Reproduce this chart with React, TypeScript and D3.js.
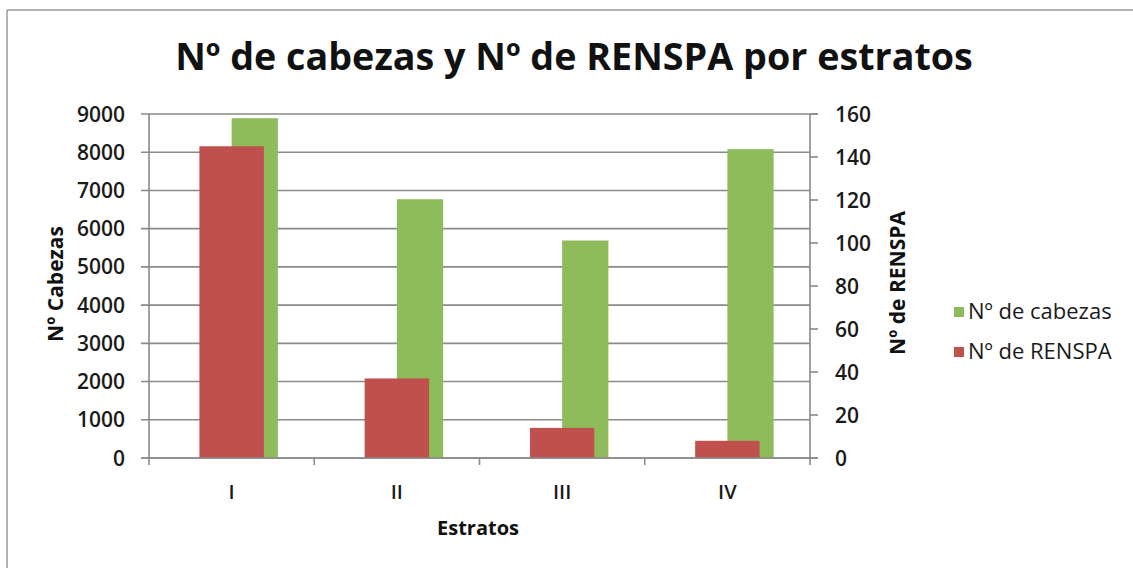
import React from "react";
import * as d3 from "d3";

const categories = ["I", "II", "III", "IV"];
const cabezas = [8890, 6770, 5690, 8080];
const renspa = [145, 37, 14, 8];
const leftTicks = [0, 1000, 2000, 3000, 4000, 5000, 6000, 7000, 8000, 9000];
const rightTicks = [0, 20, 40, 60, 80, 100, 120, 140, 160];

const title = "Nº de cabezas y Nº de RENSPA por estratos";
const seriesNames = ["Nº de cabezas", "Nº de RENSPA"];
const colors = ["#8fbc5a", "#c0504d"];

const W = 1133;
const H = 568;
const plot = { left: 149, right: 810, top: 114, bottom: 458 };
const font = "'Open Sans', sans-serif";
const gridColor = "#8a8a8a";

export default function App() {
  const x = d3.scaleBand<string>().domain(categories).range([plot.left, plot.right]).paddingInner(0).paddingOuter(0);
  const yL = d3.scaleLinear().domain([0, 9000]).range([plot.bottom, plot.top]);
  const yR = d3.scaleLinear().domain([0, 160]).range([plot.bottom, plot.top]);
  const bw = x.bandwidth();
  const greenW = bw * 0.28;
  const redW = bw * 0.39;
  const boundaries = categories.map((c) => x(c) as number).concat([plot.right]);

  return (
    <svg width={W} height={H} style={{ position: "absolute", left: 0, top: 0, display: "block", background: "#fff", overflow: "hidden" }}>
      <line x1={7} x2={W} y1={10} y2={10} stroke="#999" strokeWidth={1.5} />
      <line x1={7} x2={7} y1={10} y2={H} stroke="#999" strokeWidth={1.5} />
      <text x={574} y={70} textAnchor="middle" fontFamily={font} fontWeight={700} fontSize={37.7} fill="#111">
        {title}
      </text>

      {/* gridlines + left ticks */}
      {leftTicks.map((t) => (
        <line key={"g" + t} x1={plot.left - 8} x2={t === 9000 ? plot.right + 8 : plot.right} y1={yL(t)} y2={yL(t)} stroke={gridColor} strokeWidth={1.6} />
      ))}
      {leftTicks.map((t) => (
        <text key={"lt" + t} x={125} y={yL(t)} dy="0.36em" textAnchor="end" fontFamily={font} fontWeight={600} fontSize={21} fill="#1a1a1a">
          {t}
        </text>
      ))}
      {/* right ticks */}
      {rightTicks.map((t) => (
        <line key={"rt" + t} x1={plot.right} x2={plot.right + 8} y1={yR(t)} y2={yR(t)} stroke={gridColor} strokeWidth={1.6} />
      ))}
      {rightTicks.map((t) => (
        <text key={"rl" + t} x={835} y={yR(t)} dy="0.36em" textAnchor="start" fontFamily={font} fontWeight={600} fontSize={21} fill="#1a1a1a">
          {t}
        </text>
      ))}

      {/* bars */}
      {categories.map((c, i) => {
        const cx = (x(c) as number) + bw / 2;
        return (
          <rect key={"gb" + c} x={cx} y={yL(cabezas[i])} width={greenW} height={plot.bottom - yL(cabezas[i])} fill={colors[0]} />
        );
      })}
      {categories.map((c, i) => {
        const cx = (x(c) as number) + bw / 2;
        return (
          <rect key={"rb" + c} x={cx - redW / 2} y={yR(renspa[i])} width={redW} height={plot.bottom - yR(renspa[i])} fill={colors[1]} />
        );
      })}

      {/* axes */}
      <line x1={plot.left} x2={plot.left} y1={plot.top} y2={plot.bottom} stroke={gridColor} strokeWidth={1.6} />
      <line x1={plot.right} x2={plot.right} y1={plot.top} y2={plot.bottom} stroke={gridColor} strokeWidth={1.6} />
      <line x1={plot.left - 8} x2={plot.right + 8} y1={plot.bottom} y2={plot.bottom} stroke={gridColor} strokeWidth={1.6} />
      {boundaries.map((b, i) => (
        <line key={"xt" + i} x1={b} x2={b} y1={plot.bottom} y2={plot.bottom + 7} stroke={gridColor} strokeWidth={1.6} />
      ))}
      {categories.map((c) => (
        <text key={"xl" + c} x={(x(c) as number) + bw / 2} y={499} textAnchor="middle" fontFamily={font} fontWeight={600} fontSize={20} fill="#1a1a1a">
          {c}
        </text>
      ))}
      <text x={478} y={535} textAnchor="middle" fontFamily={font} fontWeight={700} fontSize={20} fill="#111">
        Estratos
      </text>
      <text transform="translate(63,284) rotate(-90)" textAnchor="middle" fontFamily={font} fontWeight={700} fontSize={21} fill="#111">
        Nº Cabezas
      </text>
      <text transform="translate(905,283) rotate(-90)" textAnchor="middle" fontFamily={font} fontWeight={700} fontSize={21} fill="#111">
        Nº de RENSPA
      </text>

      {/* legend */}
      {seriesNames.map((s, i) => {
        const cy = 312 + i * 40;
        return (
          <g key={"lg" + s}>
            <rect x={954} y={cy - 5} width={10} height={10} fill={colors[i]} />
            <text x={968} y={cy + 7} fontFamily={font} fontSize={22} fill="#1a1a1a">
              {s}
            </text>
          </g>
        );
      })}
    </svg>
  );
}
